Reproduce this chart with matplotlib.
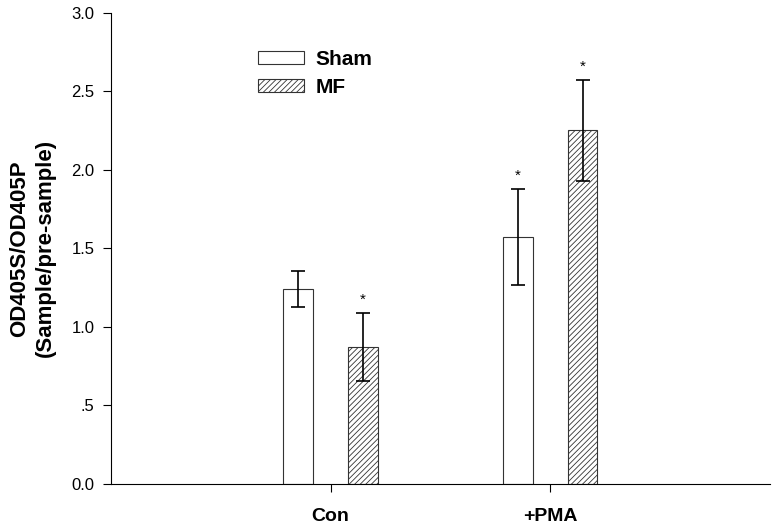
import numpy as np
import matplotlib.pyplot as plt

plt.rcParams['font.family'] = ['Liberation Sans', 'DejaVu Sans']
plt.rcParams['hatch.linewidth'] = 0.6

# data
groups = ['Con', '+PMA']
sham = [1.24, 1.57]
sham_err = [0.115, 0.305]
mf = [0.87, 2.25]
mf_err = [0.215, 0.32]
sham_star = [False, True]
mf_star = [True, True]

x = np.array([1, 2])
w = 0.136
off = 0.148

fig = plt.figure(figsize=(7.73, 5.25), dpi=100)
ax = fig.add_axes([0.1436, 0.0781, 0.852, 0.898])

ax.bar(x - off, sham, w, color='white', edgecolor='#333333', linewidth=0.8, label='Sham')
ax.bar(x + off, mf, w, color='white', edgecolor='#333333', linewidth=0.8, hatch='//////', label='MF')
ax.errorbar(x - off, sham, yerr=sham_err, fmt='none', ecolor='black', elinewidth=1.2, capsize=5, capthick=1.2)
ax.errorbar(x + off, mf, yerr=mf_err, fmt='none', ecolor='black', elinewidth=1.2, capsize=5, capthick=1.2)

for i in range(len(x)):
    if sham_star[i]:
        ax.text(x[i] - off, sham[i] + sham_err[i] + 0.04, '*', ha='center', va='bottom', fontsize=11)
    if mf_star[i]:
        ax.text(x[i] + off, mf[i] + mf_err[i] + 0.04, '*', ha='center', va='bottom', fontsize=11)

ax.set_xlim(0, 3)
ax.set_ylim(0, 3.0)
ax.set_xticks(x)
ax.set_xticklabels(groups, fontsize=14, fontweight='bold')
ax.set_yticks([0, 0.5, 1.0, 1.5, 2.0, 2.5, 3.0])
ax.set_yticklabels(['0.0', '.5', '1.0', '1.5', '2.0', '2.5', '3.0'], fontsize=12)
ax.tick_params(axis='both', direction='out', length=6, width=0.8, pad=6)
ax.tick_params(axis='x', pad=11)
ax.spines['top'].set_visible(False)
ax.spines['right'].set_visible(False)
ax.set_ylabel('OD405S/OD405P\n(Sample/pre-sample)', fontsize=16, fontweight='bold',
              labelpad=11, linespacing=1.3)

ax.legend(loc='upper left', bbox_to_anchor=(258 / 773, 1 - 50 / 525), bbox_transform=fig.transFigure,
          frameon=False, borderpad=0, borderaxespad=0,
          handlelength=2.2, handleheight=0.55, handletextpad=0.58, labelspacing=0.42,
          prop={'weight': 'bold', 'size': 15})

fig.savefig('out.png', dpi=100)
